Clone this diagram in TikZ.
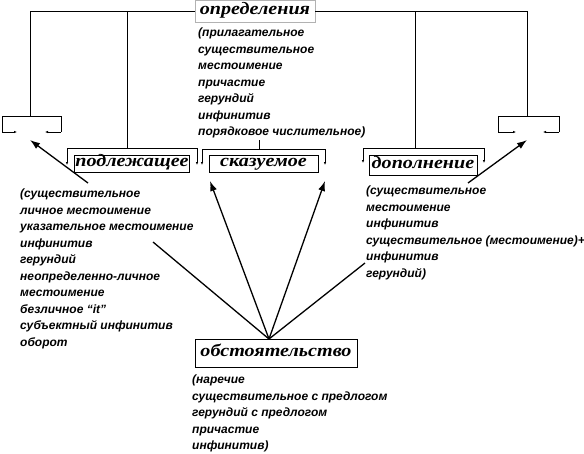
\documentclass[tikz,border=0pt]{standalone}
\usepackage{fontspec}
\setmainfont{Liberation Serif}
\newfontfamily\listfont{Liberation Sans}
\newfontfamily\lblfont[FakeStretch=1.15]{Liberation Serif}
\usetikzlibrary{arrows.meta}
\tikzset{
  lblbox/.style={draw,line width=.8pt,font=\lblfont\fontsize{17.5}{18}\selectfont\bfseries\itshape,inner sep=1pt,text height=9pt,text depth=3pt},
  lbltop/.style={lblbox,draw=gray!60},
  listtxt/.style={anchor=north west,align=left,inner sep=0pt,font=\listfont\fontsize{12}{16.5}\selectfont\bfseries\itshape},
  brline/.style={line width=.7pt},
  smallarr/.style={line width=.7pt,-{Latex[length=3pt,width=2.5pt]}},
  bigarr/.style={line width=1.3pt,-{Latex[length=10pt,width=7pt]}},
  bigline/.style={line width=1.3pt}
}
\begin{document}
\begin{tikzpicture}[x=1pt,y=-1pt]
  \useasboundingbox (0,0) rectangle (584,453);
  % labels
  \node[lbltop,minimum width=120pt,minimum height=22pt] (opr) at (255,11) {определения};
  \node[lblbox,minimum width=114pt,minimum height=17pt] (podl) at (132,163.5) {подлежащее};
  \node[lblbox,minimum width=109pt,minimum height=17pt] (skaz) at (263.5,163.5) {сказуемое};
  \node[lblbox,minimum width=108pt,minimum height=20pt] (dop) at (423,165) {дополнение};
  \node[lblbox,minimum width=162pt,minimum height=28pt] (obst) at (276,353) {обстоятельство};

  % lists
  \node[listtxt] (oprlist) at (198,28) {(прилагательное\\существительное\\местоимение\\причастие\\герундий\\инфинитив\\порядковое числительное)};
  \node[listtxt] (podllist) at (20,189) {(существительное\\личное местоимение\\указательное местоимение\\инфинитив\\герундий\\неопределенно-личное\\местоимение\\безличное “it”\\субъектный инфинитив\\оборот};
  \node[listtxt] (doplist) at (366,186) {(существительное\\местоимение\\инфинитив\\существительное (местоимение)+\\инфинитив\\герундий)};
  \node[listtxt] (obstlist) at (192,375) {(наречие\\существительное с предлогом\\герундий с предлогом\\причастие\\инфинитив)};

  % points
  \coordinate (lbr) at (30,116);
  \coordinate (rbr) at (527,116);
  \coordinate (podltop) at (127,148);
  \coordinate (skaztop) at (259,149);
  \coordinate (doptop) at (415,148);
  \coordinate (hub) at (269,339);

  % top line and brackets
  \draw[brline] (opr) -| (lbr);
  \draw[brline] (opr) -| (rbr);
  \draw[brline] (podltop |- opr) -- (podltop);
  \draw[brline] (doptop |- opr) -- (doptop);
  \draw[brline] (259,140) -- (skaztop);
  \draw[brline] (2,132) |- (61,116) -- (61,132);
  \draw[brline] (498,132) |- (559,116) -- (559,132);
  \draw[smallarr] (2,132) -- (17,132);
  \draw[smallarr] (61,132) -- (45,132);
  \draw[smallarr] (498,132) -- (516,132);
  \draw[smallarr] (559,132) -- (543,132);
  \draw[smallarr] (podltop) -| (67,165);
  \draw[smallarr] (podltop) -| (197,165);
  \draw[smallarr] (skaztop) -| (202,165);
  \draw[smallarr] (skaztop) -| (325,165);
  \draw[smallarr] (doptop) -| (363,163);
  \draw[smallarr] (doptop) -| (484,163);

  % arrows
  \draw[bigarr] (88,183) -- (30,140);
  \draw[bigarr] (468,183) -- (527,140);
  \draw[bigarr] (hub) -- (210,181);
  \draw[bigarr] (hub) -- (325,181);
  \draw[bigline] (hub) -- (153,242);
  \draw[bigline] (hub) -- (365,263);
\end{tikzpicture}
\end{document}
